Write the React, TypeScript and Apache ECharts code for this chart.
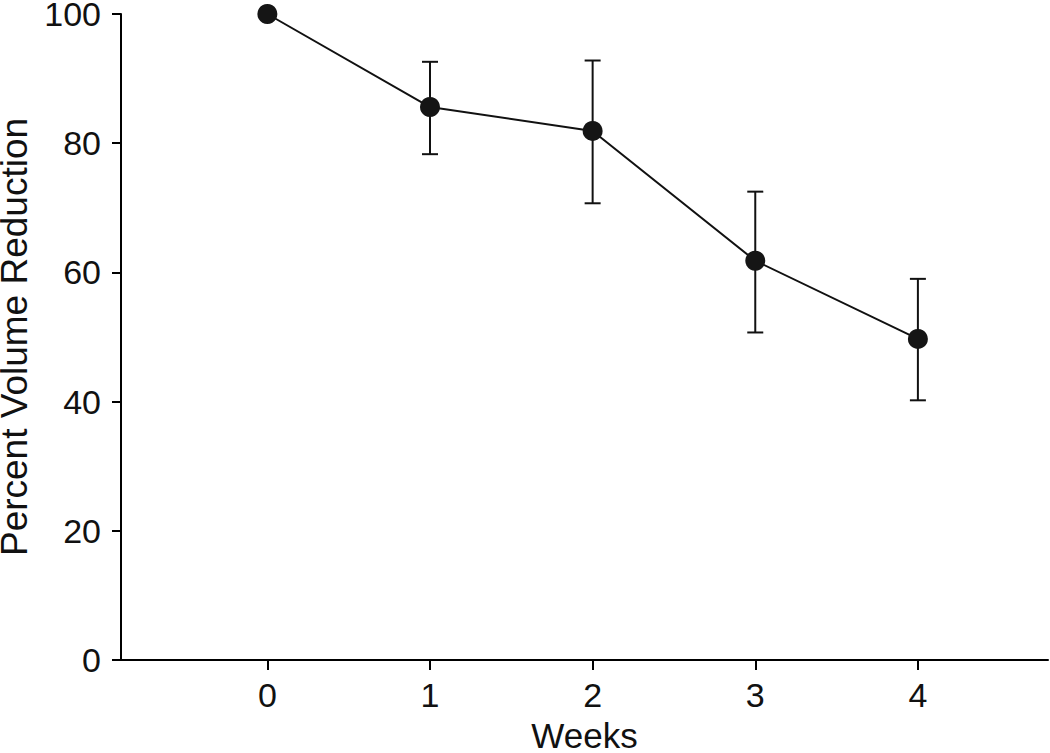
import React, { useEffect, useRef } from "react";
import * as echarts from "echarts";

const weeks = [0, 1, 2, 3, 4];
const meanValues = [100, 85.6, 81.9, 61.8, 49.7];
const upperValues = [null, 92.6, 92.8, 72.5, 59.0];
const lowerValues = [null, 78.3, 70.7, 50.7, 40.2];
const yTicks = [0, 20, 40, 60, 80, 100];

const FONT = "Liberation Sans, Arial, Helvetica, sans-serif";

export default function App() {
  const ref = useRef<HTMLDivElement>(null);
  useEffect(() => {
    document.body.style.margin = "0";
    const chart = echarts.init(ref.current!, null, { renderer: "svg" });
    const errData = weeks
      .map((w, i) => [w, lowerValues[i], upperValues[i]])
      .filter((d) => d[1] != null);
    chart.setOption({
      animation: false,
      backgroundColor: "#ffffff",
      grid: { left: 121, right: 2, top: 14, bottom: 93, containLabel: false, outerBoundsMode: "none" },
      xAxis: {
        type: "value",
        min: -0.9,
        max: 4.8,
        name: "Weeks",
        nameLocation: "middle",
        nameGap: 58,
        nameTextStyle: { fontFamily: FONT, fontSize: 35, color: "#111" },
        axisLine: { show: true, onZero: false, lineStyle: { color: "#000", width: 2 } },
        axisTick: { show: true, length: 10, customValues: weeks, lineStyle: { color: "#000", width: 2 } },
        axisLabel: { customValues: weeks, fontFamily: FONT, fontSize: 34, color: "#111", margin: 18 },
        splitLine: { show: false },
      },
      yAxis: {
        type: "value",
        min: 0,
        max: 100,
        interval: 20,
        name: "Percent Volume Reduction",
        nameLocation: "middle",
        nameGap: 80,
        nameTextStyle: { fontFamily: FONT, fontSize: 37, color: "#111" },
        axisLine: { show: true, onZero: false, lineStyle: { color: "#000", width: 2 } },
        axisTick: { show: true, length: 9, lineStyle: { color: "#000", width: 2 } },
        axisLabel: {
          fontFamily: FONT,
          fontSize: 34,
          color: "#111",
          margin: 20,
          formatter: (v: number) => (yTicks.includes(v) ? String(v) : ""),
        },
        splitLine: { show: false },
      },
      series: [
        {
          type: "custom",
          data: errData,
          z: 1,
          renderItem: (params: any, api: any) => {
            const x = api.value(0);
            const lo = api.coord([x, api.value(1)]);
            const hi = api.coord([x, api.value(2)]);
            const half = 8;
            const style = { stroke: "#111", lineWidth: 2 };
            return {
              type: "group",
              children: [
                { type: "line", shape: { x1: lo[0], y1: lo[1], x2: hi[0], y2: hi[1] }, style },
                { type: "line", shape: { x1: hi[0] - half, y1: hi[1], x2: hi[0] + half, y2: hi[1] }, style },
                { type: "line", shape: { x1: lo[0] - half, y1: lo[1], x2: lo[0] + half, y2: lo[1] }, style },
              ],
            };
          },
        },
        {
          type: "line",
          data: weeks.map((w, i) => [w, meanValues[i]]),
          symbol: "circle",
          symbolSize: 20,
          z: 3,
          lineStyle: { color: "#111", width: 2 },
          itemStyle: { color: "#151515", borderWidth: 0 },
        },
      ],
    });
    return () => chart.dispose();
  }, []);
  return (
    <div
      ref={ref}
      style={{ position: "absolute", left: 0, top: 0, width: 1050, height: 753 }}
    />
  );
}
